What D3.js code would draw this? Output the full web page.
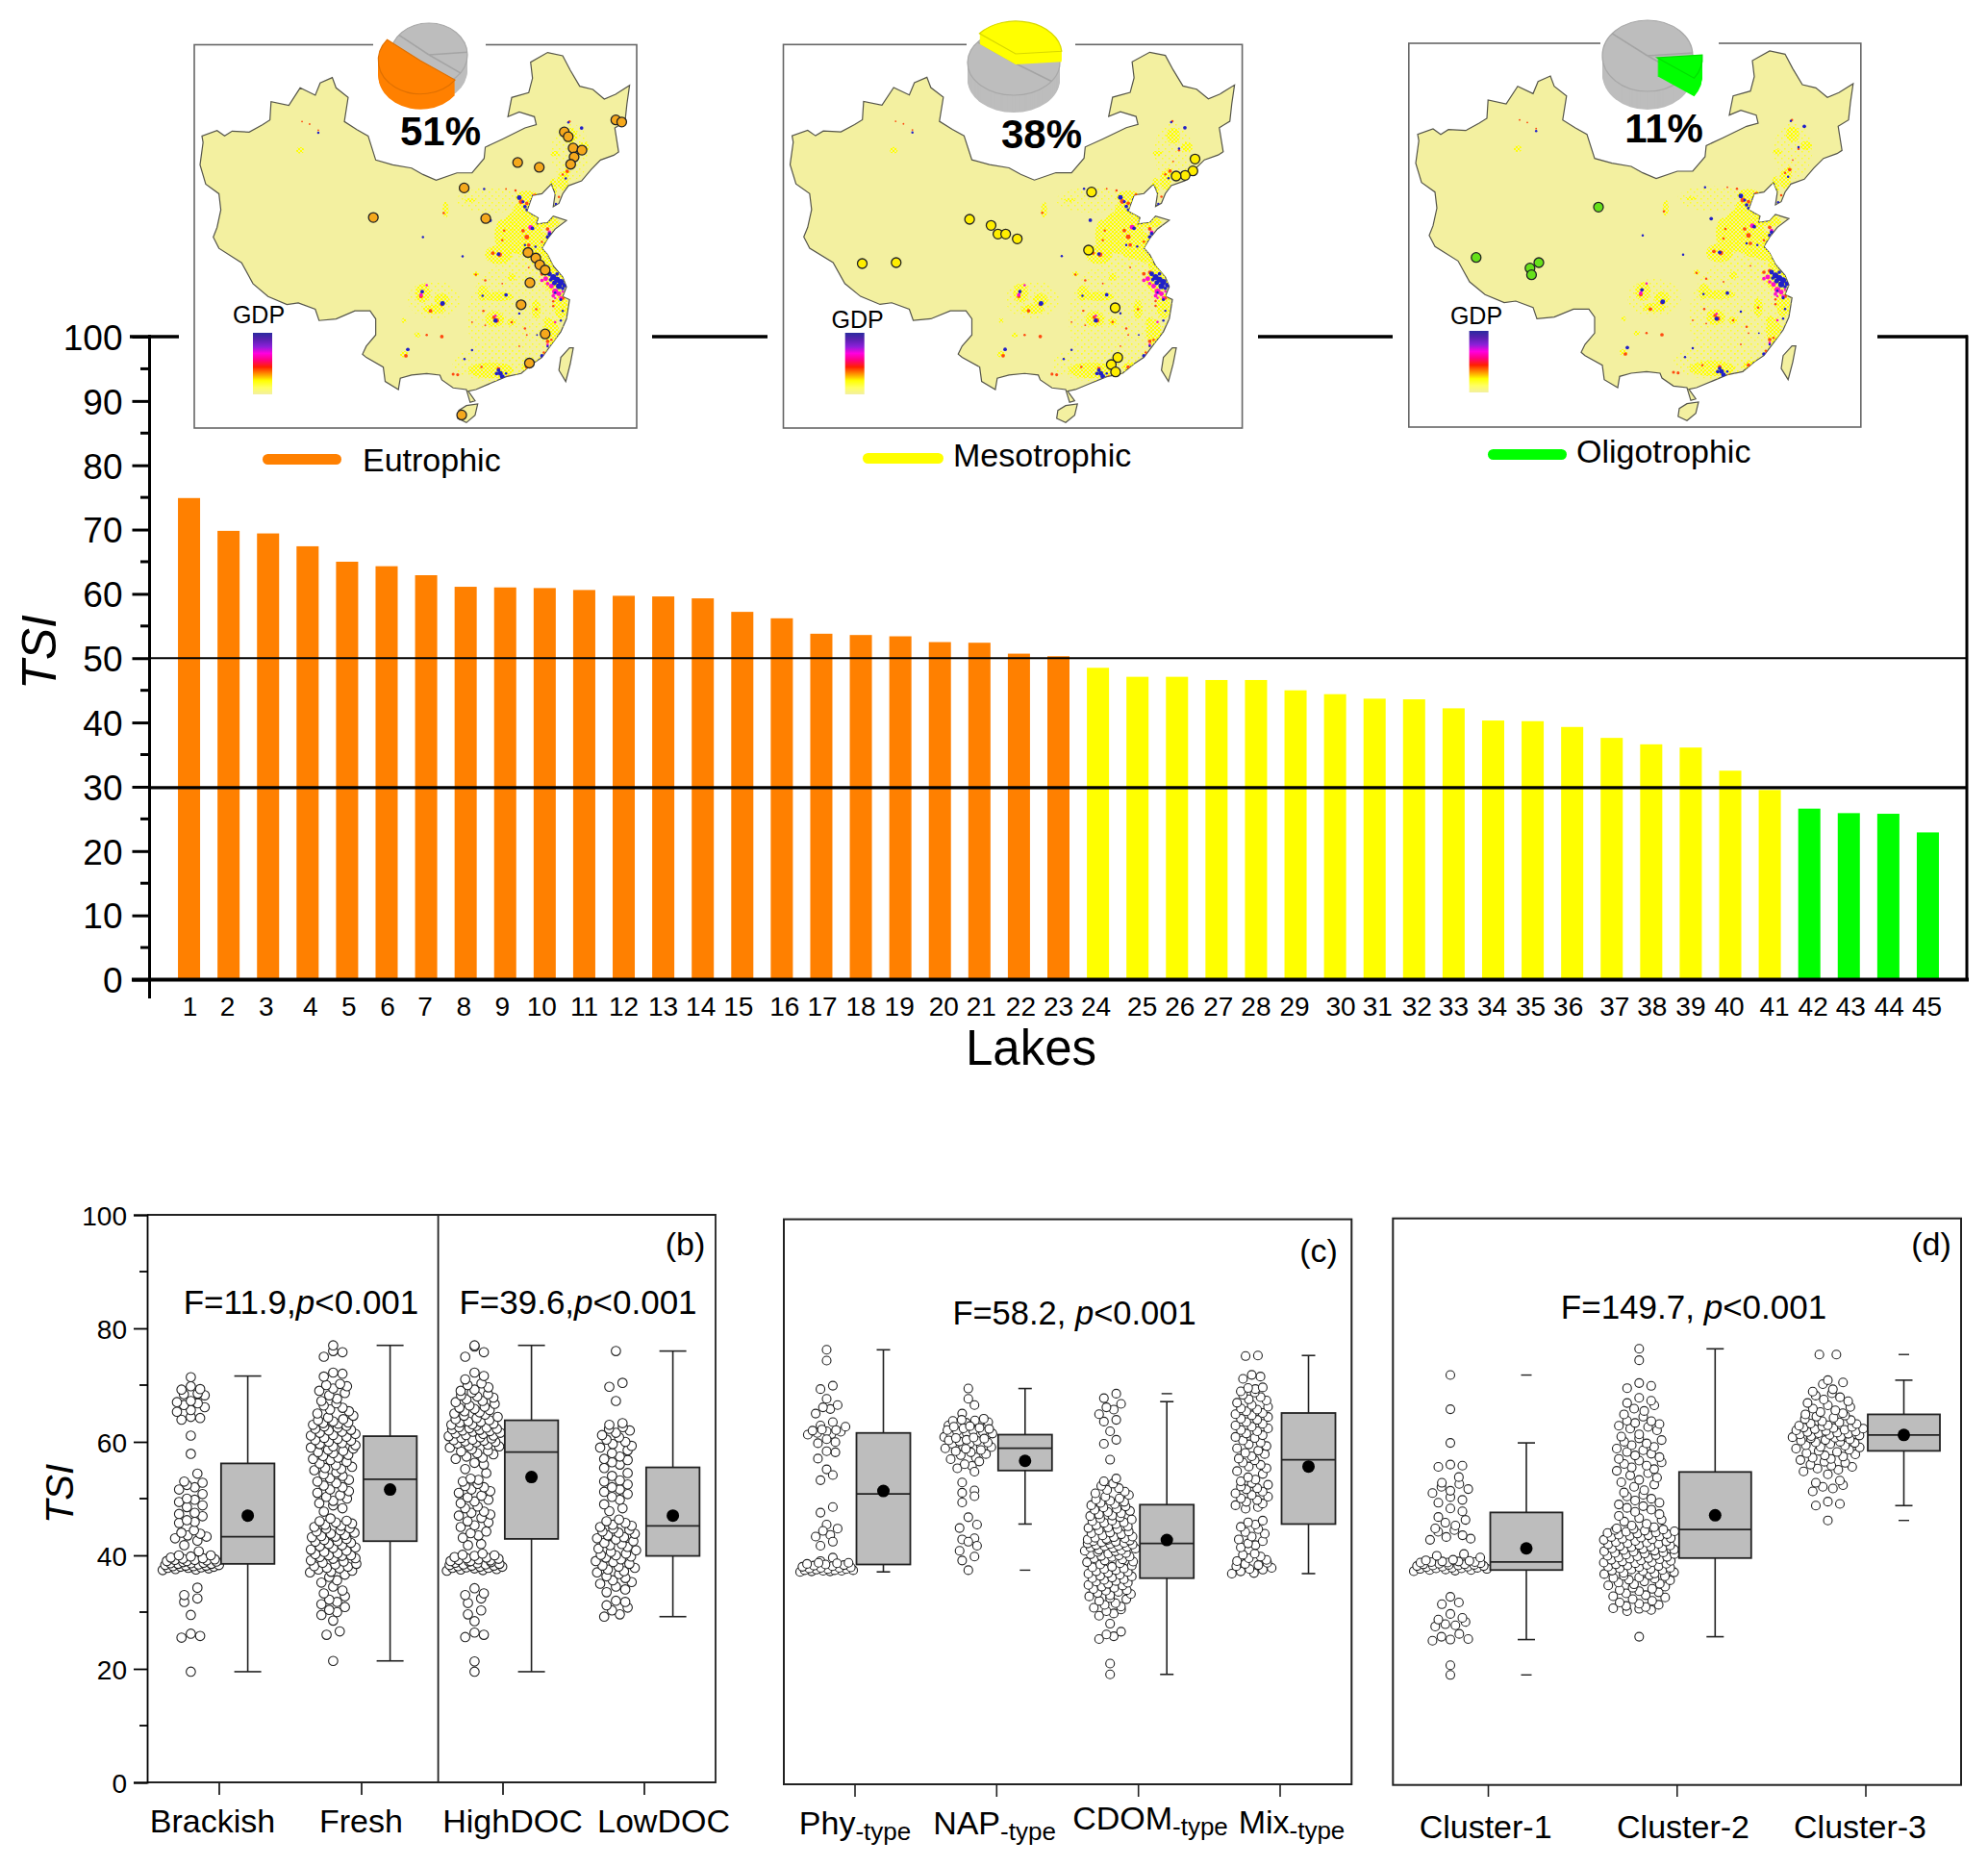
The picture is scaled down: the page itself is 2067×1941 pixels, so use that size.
<!DOCTYPE html>
<html>
<head>
<meta charset="utf-8">
<script src="https://cdnjs.cloudflare.com/ajax/libs/d3/7.8.5/d3.min.js"></script>
<style>
body { margin: 0; background: #fff; }
text { font-family: "Liberation Sans", Arial, sans-serif; fill: #000; }
</style>
</head>
<body>
<div id="chart"></div>
<script>
// --- top chart data ---
var lakes = d3.range(1, 46);
var tsi = [74.9,69.8,69.4,67.4,65,64.3,62.9,61.1,61,60.9,60.6,59.7,59.6,59.3,57.2,56.2,53.8,53.6,53.4,52.5,52.4,50.7,50.3,
           48.5,47.1,47.1,46.6,46.6,45,44.4,43.7,43.6,42.2,40.3,40.2,39.3,37.6,36.6,36.1,32.5,29.5,
           26.6,25.9,25.8,22.9];
var trophicNames = ["Eutrophic", "Mesotrophic", "Oligotrophic"];
var trophicColors = ["#ff8000", "#ffff00", "#00ff00"];
var thresholds = [50, 30];
// the lake numbers were hand placed in the original, not quite under the bars
var labelNudge = [1,-1,-2,3,2,1,-1,-2,-3,-3,0,0,0,-2,-4,3,1,0,-1,4,2,2,0,-2,5,3,2,0,-1,6,3,3,0,-1,-2,-4,3,1,0,-1,5,4,2,1,-1];

// --- box data: [low, q1, median, q3, high, mean, dashLow, dashHigh] ---
var panelBNames = ["Brackish", "Fresh", "HighDOC", "LowDOC"];
var panelBBoxes = [
  [19.5,38.5,43.3,56.2,71.6,47],
  [21.4,42.5,53.4,61,77,51.6],
  [19.5,42.9,58.2,63.8,77,53.8],
  [29.2,39.9,45.2,55.5,76,47]
];
var panelCNames = ["Phy", "NAP", "CDOM", "Mix"];
var panelCBoxes = [
  [37.3,38.6,51,61.7,76.3,51.5],
  [45.7,55.1,59,61.4,69.5,56.8,37.6],
  [19.3,36.2,42.3,49.1,67.2,42.9,null,68.6],
  [37,45.7,57,65.2,75.3,55.8]
];
var panelDNames = ["Cluster-1", "Cluster-2", "Cluster-3"];
var panelDBoxes = [
  [25.5,37.7,39.1,47.8,60,41.5,19.3,71.9],
  [26,39.8,44.8,54.9,76.5,47.3],
  [49,58.6,61.4,65,71,61.4,46.4,75.5]
];

// --- lake samples ---
var brackishVals = [19.5,25.5,25.8,26.2,29.5,31.8,32.4,33,34.3,37.4,37.5,37.6,37.7,37.8,37.8,37.9,38,38,38.1,38.1,38.2,38.2,38.3,38.3,38.4,38.5,38.5,38.6,38.6,38.7,38.8,38.9,39,39,39.1,39.2,39.2,39.3,39.4,39.5,39.6,39.8,40,40,40.7,41.8,42.6,43,43.3,43.5,43.8,44,44.4,45.7,45.9,46.2,46.9,47.3,47.5,48.5,48.8,49.4,49.8,50,50.8,51.6,52,52.4,52.8,53,54.4,57.9,61.1,63.9,64.2,64.4,65.3,65.6,66.1,66.5,66.8,67,67.2,68.2,68.4,68.5,69.2,69.3,69.8,71.4];
var freshVals = [21.4,26,26.6,28.5,29.5,30,30.4,30.9,31.4,31.8,32.2,32.8,33.3,33.8,34.5,35.2,35.6,36.2,36.6,37,37.1,37.3,37.5,37.7,37.8,38,38.1,38.4,38.5,38.7,38.9,39.1,39.4,39.5,39.7,39.9,40,40,40.2,40.4,40.6,40.8,41,41.3,41.4,41.6,41.8,42,42.2,42.4,42.5,42.7,42.9,43.2,43.3,43.4,43.6,43.8,44,44.2,44.4,44.7,44.8,45,45.2,45.4,45.6,45.8,46,46.1,46.5,47.7,48.3,48.8,49.2,49.6,50,50.3,50.6,51,51.3,51.6,52,52.3,52.7,53,53.3,53.6,54,54.3,54.6,55,55.2,55.4,55.6,55.9,56.2,56.5,56.8,57,57.2,57.5,57.7,58,58.2,58.4,58.6,58.8,59,59.2,59.4,59.6,59.8,60,60.2,60.3,60.5,60.7,60.9,61.1,61.2,61.4,61.6,61.8,62,62.1,62.3,62.5,62.7,62.8,63,63.2,63.3,63.4,63.6,63.8,64,64.3,64.6,65,65.4,65.7,66,66.4,66.8,67.2,67.6,68.2,68.6,69,69.4,69.8,70,70.2,71.5,72,72.2,75,75.8,76,77];
var highDocVals = [19.5,21.3,25.6,26,26.4,28.4,29.6,30.3,31.6,32.4,33,33.3,34.2,37.3,37.4,37.5,37.6,37.7,37.8,37.8,37.9,38,38,38.1,38.2,38.2,38.3,38.4,38.4,38.5,38.6,38.7,38.8,38.9,39,39,39.1,39.2,39.3,39.4,39.5,39.6,39.7,39.9,40,40.1,40.3,41.8,42,43.1,43.5,43.9,44.2,45,45.3,45.8,46,46.6,47,47.2,47.5,47.7,48.3,48.6,49.2,49.5,49.8,50.2,50.5,51,51.3,51.6,52,52.2,52.6,53,53.3,53.5,54.5,55.2,56,56.3,57,57.2,57.4,57.8,58,58.3,58.4,58.7,59,59.2,59.3,59.5,59.7,59.9,60,60.1,60.2,60.3,60.4,60.6,60.7,60.8,61,61.1,61.2,61.4,61.5,61.6,61.8,61.9,62,62.1,62.2,62.3,62.4,62.5,62.6,62.8,63,63.1,63.2,63.4,63.5,63.6,63.8,64,64.2,64.4,64.6,64.8,65,65.2,65.4,65.6,65.8,66,66.2,66.4,66.7,67,67.2,67.5,67.8,68,68.2,68.4,68.7,69,69.2,69.6,70,70.3,71,71.6,72.2,75,75.8,76.8,77];
var lowDocVals = [29.2,29.6,30.3,30.8,31.2,31.8,32,33.5,34,34.5,35,35.3,35.6,36,36.3,36.7,37,37.2,37.5,37.8,38,38.2,38.5,38.8,39,39.3,39.6,39.8,40,40.1,40.3,40.6,40.9,41.2,41.5,41.8,42,42.2,42.5,42.8,43,43.2,43.5,43.8,44,44.2,44.5,44.7,45,45.2,45.4,45.7,46,46.3,47.8,48.3,49,49.8,50.3,50.8,51.2,51.6,52,52.5,53,53.2,54,54.5,55.4,56,56.4,56.8,57,57.4,58,58.5,59,59.3,59.6,60,60.4,60.8,61.2,61.6,62,62.3,62.6,63,63.3,67.2,69.7,70.4,76];
var phyVals = [76.3,74.4,70,69.4,67.7,66.6,66.2,65.9,65.1,63.6,63,62.8,62.3,62.2,62.1,62,61.9,61.7,61.5,61.4,60.6,60.1,59.9,58.5,58.3,57.2,55.3,54.3,53.4,48.7,47.7,45.6,44.9,44.5,43.8,43.5,42.6,41.9,39.8,39.2,38.9,38.9,38.8,38.7,38.6,38.5,38.4,38.3,38.2,38.1,38,38,37.9,37.8,37.8,37.7,37.6,37.6,37.6,37.5,37.5,37.4,37.4,37.3];
var napVals = [69.5,67.7,66.6,65.1,64.2,64,63.9,63.8,63.6,63.5,63.3,63.2,63.1,63,62.9,62.8,62.6,62.5,62.4,62.2,62.1,62,61.9,61.7,61.6,61.5,61.4,61.2,61.1,61,60.9,60.8,60.7,60.5,60.4,60.3,60.2,60,59.9,59.8,59.5,59.3,59.2,59,58.9,58.7,58.5,58.3,58,57.8,57.4,57.1,56.7,56.2,55.9,55.5,54.9,53,51.6,51.2,50.6,49.5,46.9,45.6,45,43.2,43,42.6,41.9,41,40,39.3,37.6];
var cdomVals = [19.3,21.2,25.5,26,26.3,26.8,28.2,29.6,30,30.4,30.7,31,31.2,31.5,31.8,32.2,32.5,32.7,33,33.2,33.4,33.6,33.8,34,34.1,34.3,34.5,34.7,34.9,35,35.2,35.4,35.6,35.7,35.9,36,36.2,36.3,36.5,36.6,36.8,37,37.1,37.3,37.4,37.6,37.8,37.9,38.1,38.2,38.4,38.6,38.8,39,39.1,39.3,39.5,39.7,39.9,40,40.1,40.2,40.4,40.5,40.6,40.8,40.9,41,41.1,41.2,41.4,41.5,41.6,41.7,41.8,41.9,42,42.1,42.2,42.3,42.4,42.5,42.6,42.7,42.8,42.9,43,43.1,43.2,43.3,43.4,43.5,43.7,43.9,44.1,44.2,44.4,44.6,44.8,45,45.1,45.3,45.5,45.7,45.9,46,46.2,46.3,46.5,46.7,46.9,47.1,47.2,47.4,47.6,47.8,48,48.2,48.4,48.6,48.8,49,49.2,49.4,49.6,49.8,50,50.2,50.5,50.8,51.1,51.4,51.7,52,52.4,52.8,53.2,53.7,57,59.8,60.5,62,63.7,64,65,65.8,66.2,66.8,67.8,68.6];
var mixVals = [37,37.1,37.4,37.7,37.8,38,38.3,38.5,38.7,38.9,39.2,39.4,39.7,40,40.3,40.5,41.6,42,42.3,42.7,43,43.5,44,44.3,44.8,45.2,45.6,46,46.3,48.4,48.7,49,49.3,49.6,49.9,50.2,50.5,50.8,51.1,51.4,51.8,52,52.3,52.6,52.9,53.2,53.5,53.9,54.5,55,55.5,55.8,56.1,56.5,56.9,57.2,57.6,58,58.2,58.6,59,59.4,59.7,60,60.4,60.8,61,61.3,61.6,62,62.2,62.5,62.8,63,63.3,63.6,64,64.2,64.5,64.8,65,65.2,65.5,65.8,66,66.3,66.6,67,67.4,67.6,68,68.4,68.8,69,69.4,69.6,69.7,71.2,71.6,71.9,75.2,75.3];
var cluster1Vals = [19.3,21,25.3,25.5,25.6,26,26.5,27.8,28,28.2,28.6,29,29.3,30,31.7,32,33,37.5,37.6,37.7,37.7,37.8,37.9,37.9,38,38,38.1,38.1,38.2,38.3,38.3,38.4,38.4,38.5,38.5,38.6,38.6,38.7,38.7,38.8,38.9,39,39,39.1,39.1,39.2,39.2,39.3,39.4,39.5,39.9,40.2,40.5,43,43.2,43.5,43.8,44.4,44.7,45,45.5,46,46.5,47,48,48.5,49.5,50,50.5,51.2,51.6,51.9,52.3,52.8,53,54,55.8,56,56.2,60,65.9,71.9];
var cluster2Vals = [26,30.5,30.7,30.9,31,31.2,31.4,31.6,31.8,32,32.3,32.6,32.9,33.1,33.3,33.6,33.8,34,34.2,34.4,34.6,34.8,35,35.2,35.3,35.5,35.7,35.9,36,36.2,36.3,36.4,36.6,36.7,36.8,37,37.1,37.2,37.3,37.5,37.6,37.7,37.8,37.9,38,38.1,38.2,38.3,38.4,38.5,38.6,38.7,38.8,38.9,39,39.1,39.2,39.3,39.4,39.5,39.6,39.7,39.8,39.9,40,40.1,40.2,40.3,40.4,40.5,40.6,40.7,40.8,40.9,41,41.1,41.2,41.3,41.4,41.5,41.6,41.7,41.8,41.9,42,42.1,42.2,42.3,42.4,42.5,42.6,42.7,42.8,43,43.1,43.2,43.3,43.4,43.5,43.6,43.7,43.8,43.9,44,44.1,44.2,44.3,44.4,44.5,44.6,44.7,44.8,44.9,45,45.2,45.5,45.8,46.2,46.5,46.8,47.2,47.5,47.9,48.3,48.6,48.9,49.2,49.5,49.9,50.2,50.6,50.9,51.3,51.7,52.3,52.7,53.1,53.5,53.9,54.3,54.7,55.1,55.4,55.7,56,56.3,56.6,56.9,57.2,57.5,57.8,58.1,58.4,58.7,59,59.3,59.6,59.9,60.2,60.5,60.8,61.1,61.5,62.2,62.5,62.8,63,63.3,63.5,63.8,63.9,64.6,65,65.6,66,66.6,67,67.4,67.9,69.6,70,70.5,74.5,76.5];
var cluster3Vals = [46.4,49,49.3,49.7,51.5,52,52.3,52.6,53,53.4,54.5,55,55.3,55.5,55.8,56,56.2,56.5,56.7,57,57.2,57.4,57.6,57.8,58,58.2,58.4,58.6,58.8,59,59.2,59.3,59.5,59.6,59.8,60,60.1,60.2,60.4,60.5,60.6,60.8,60.9,61,61.1,61.2,61.3,61.4,61.5,61.6,61.7,61.8,61.9,62,62.1,62.2,62.3,62.4,62.5,62.6,62.7,62.8,62.9,63,63.1,63.3,63.4,63.6,63.8,64,64.2,64.4,64.6,64.8,65,65.2,65.4,65.7,66,66.3,66.6,67,67.3,67.6,68,68.3,68.7,69,69.4,70.3,70.6,71,75.5,75.5];

// --- map data, in the pixel grid I read the outline from ---
var chinaOutline = [[80,510],[88,440],[85,420],[125,403],[145,420],[165,405],[210,408],[245,385],[265,370],[268,313],[315,325],[345,270],[385,293],[398,255],[430,238],[440,270],[472,300],[462,375],[495,400],[525,420],[545,495],[590,510],[640,520],[670,540],[705,558],[760,535],[800,535],[832,490],[835,455],[880,430],[940,395],[970,385],[965,360],[925,345],[895,360],[905,300],[950,285],[960,240],[955,190],[1000,160],[1040,170],[1060,215],[1085,265],[1120,275],[1150,305],[1180,290],[1217,262],[1210,320],[1205,375],[1178,395],[1188,470],[1175,480],[1140,495],[1115,525],[1090,560],[1055,575],[1040,600],[1030,630],[1015,640],[1020,600],[1010,570],[985,600],[960,605],[945,655],[975,675],[970,695],[1000,690],[1015,670],[1050,683],[1020,710],[1000,740],[985,770],[1000,790],[1015,825],[1040,860],[1050,890],[1040,920],[1058,930],[1050,990],[1035,1030],[1010,1070],[985,1110],[960,1130],[930,1160],[890,1170],[850,1190],[810,1210],[790,1215],[808,1245],[795,1250],[785,1210],[750,1205],[720,1180],[715,1165],[680,1160],[640,1165],[610,1175],[605,1210],[570,1185],[565,1140],[520,1110],[510,1100],[520,1075],[545,1040],[545,990],[530,965],[490,965],[440,990],[395,995],[385,960],[340,940],[310,945],[260,920],[220,880],[190,815],[130,770],[115,735],[125,705],[135,650],[130,600],[95,570]];
var taiwanOutline = [[1058,1080],[1068,1080],[1060,1130],[1048,1185],[1030,1150],[1035,1110]];
var hainanOutline = [[785,1260],[815,1255],[808,1290],[785,1313],[762,1300],[765,1275]];
var gdpSparse = [[930,990,140,190],[960,760,85,130],[860,1130,110,55],[700,930,70,60],[1060,470,50,90],[850,620,90,40]];
var gdpHaze = [[930,720,55,70],[965,760,50,45],[880,730,20,50],[1000,690,30,18],[990,790,30,25],[1020,820,25,25],[1020,870,30,40],[1035,950,18,40],[1010,1030,20,40],[870,790,35,30],[935,650,25,25],[945,610,30,20],[1040,560,15,30],[1015,580,10,30],[1050,535,8,15],[870,920,40,15],[830,910,15,25],[670,910,20,30],[700,960,30,15],[720,930,20,20],[860,990,25,25],[905,1000,12,12],[850,1150,60,25],[950,1140,20,15],[730,650,8,25],[795,620,15,6],[345,465,10,10],[1060,420,18,25],[1095,455,15,15],[1020,475,12,8],[940,1170,15,6],[620,1100,10,10],[655,1040,8,8],[620,995,6,8],[970,960,12,30],[905,860,10,12],[810,850,8,8],[1000,1000,10,15]];
var gdpOrange = [[985,850,3],[1000,845,3],[930,625,4],[945,630,3],[965,605,3],[935,715,3],[945,735,4],[950,760,3],[885,715,2],[880,745,2],[873,790,4],[855,785,3],[725,660,2],[720,945,3],[665,920,3],[690,965,3],[750,1162,2.5],[762,1164,2.5],[1000,1060,3],[1052,530,3],[1030,610,2],[1075,465,2],[1058,375,2],[945,1140,3],[865,995,4],[858,985,3],[625,1105,3],[720,1045,3],[680,1040,2],[830,965,2],[905,1000,2],[810,852,2],[835,870,2],[940,1020,2],[1015,950,2],[350,375,1.5],[370,383,1.5],[393,402,1.5],[825,1140,2],[970,960,2],[915,590,2],[890,585,1.5],[950,650,2],[1000,710,3],[985,750,2],[1040,925,3],[1015,935,2],[990,1095,2],[1010,1055,2],[870,1145,3],[895,1170,2],[945,1040,1.5],[925,1075,1.5],[835,1010,1.5],[800,1000,1.5],[880,880,1.5],[950,830,1.5],[1060,500,1.5],[1040,540,2]];
var gdpMagenta = [[1020,905,5],[1030,912,4],[1010,888,4],[995,865,4],[985,870,3],[1000,880,3],[1015,918,3],[1035,925,3],[955,705,4],[1005,720,3],[665,915,3],[940,640,2],[1000,1070,2],[1020,1000,2],[862,980,2],[680,885,2],[1040,905,2],[1020,925,2],[935,625,2],[990,1105,2]];
var gdpBlue = [[1005,850,4],[1015,860,5],[1025,868,5],[1035,875,5],[1045,885,4],[1030,888,5],[1018,878,4],[1040,895,3],[1008,868,3],[1025,850,3],[1020,908,2],[1035,930,2.5],[870,1150,3],[875,1160,4],[880,1170,4],[885,1180,3],[865,1160,3],[890,1160,2],[925,612,4],[935,625,2.5],[940,640,3],[945,650,2.5],[722,942,4],[668,905,3],[870,788,3],[862,995,3.5],[775,795,2],[960,708,3],[1000,735,3],[1005,725,3],[990,770,2],[1090,395,3],[1055,378,2],[1022,632,2],[1075,460,2],[1048,552,2],[393,410,2],[630,1085,3],[780,1115,2],[800,1087,2],[925,973,2],[890,915,3],[828,918,2],[848,683,3],[985,1105,3],[1000,1075,2],[1035,995,2],[1040,965,2],[670,735,2],[972,1040,1.5],[940,760,2],[968,765,2],[832,585,2]];
var gdpStops = ["#2a2a9e","#5a20b0","#8a20d8","#ff00e0","#ff0080","#ff2000","#ff9000","#ffff00","#ffff60","#f3f0a0"];

// lakes on each map, each in the grid of its own map panel
var lakesEutrophic = [[761,633],[946,547],[990,636],[1055,473],[1099,487],[1150,384],[1158,398],[1168,431],[1170,457],[1163,478],[1186,437],[1255,349],[1267,355],[1076,735],[1092,751],[1100,771],[1111,786],[1080,823],[1062,887],[1111,972],[1079,1057],[941,1208]];
var lakesMesotrophic = [[1036,496],[1031,533],[1013,547],[992,549],[795,599],[511,684],[561,703],[577,730],[595,730],[622,745],[788,780],[261,822],[340,819],[850,960],[856,1115],[841,1137],[851,1160]];
var lakesOligotrophic = [[555,647],[237,804],[377,837],[400,820],[381,858]];

var pieShares = [51, 38, 11];

var width = 2067, height = 1941;
var svg = d3.select("#chart").append("svg").attr("width", width).attr("height", height);
svg.append("rect").attr("width", width).attr("height", height).attr("fill", "#fff");

function trophicIndex(i) { return i < 23 ? 0 : (i < 41 ? 1 : 2); }

// ===== top bar chart =====
var yTop = d3.scaleLinear().domain([0, 100]).range([1018.5, 350]);
var xTop = d3.scaleBand().domain(lakes).range([176, 2025]).paddingInner(0.44).paddingOuter(0.22);
var gTop = svg.append("g");

gTop.selectAll("rect.bar").data(tsi).enter().append("rect")
   .attr("class", "bar")
   .attr("x", function(d, i) { return xTop(lakes[i]); })
   .attr("width", xTop.bandwidth())
   .attr("y", function(d) { return yTop(d); })
   .attr("height", function(d) { return yTop(0) - yTop(d); })
   .attr("fill", function(d, i) { return trophicColors[trophicIndex(i)]; });

gTop.selectAll("line.thr").data(thresholds).enter().append("line")
   .attr("class", "thr")
   .attr("x1", 155).attr("x2", 2045)
   .attr("y1", function(d) { return yTop(d) + (d == 30 ? 1 : 0); })
   .attr("y2", function(d) { return yTop(d) + (d == 30 ? 1 : 0); })
   .attr("stroke", "#000")
   .attr("stroke-width", function(d) { return d == 30 ? 3.2 : 2.2; });

var yAxis = gTop.append("g").attr("transform", "translate(155.5,0)")
   .call(d3.axisLeft(yTop).tickValues(d3.range(0, 101, 10)).tickSize(18).tickPadding(10));
yAxis.selectAll("text").style("font-size", "37px").attr("dy", "0.36em");
yAxis.selectAll("line").attr("stroke-width", 3);
yAxis.select(".domain").attr("stroke-width", 3).attr("d", "M0,348V1038");
gTop.append("g").selectAll("line").data(d3.range(5, 100, 10)).enter().append("line")
   .attr("x1", 146).attr("x2", 155)
   .attr("y1", function(d) { return yTop(d); }).attr("y2", function(d) { return yTop(d); })
   .attr("stroke", "#000").attr("stroke-width", 3);

var xAxis = gTop.append("g").attr("transform", "translate(0," + yTop(0) + ")")
   .call(d3.axisBottom(xTop).tickSize(0).tickPadding(18));
xAxis.select(".domain").attr("stroke", "#000").attr("stroke-width", 4).attr("d", "M137,0H2047");
xAxis.selectAll("text").style("font-size", "28px")
   .attr("dx", function(d, i) { return labelNudge[i]; });

// top frame is broken where the maps sit
[[135, 186], [678, 798], [1308, 1448], [1952, 2046]].forEach(function(s) {
  gTop.append("line").attr("x1", s[0]).attr("x2", s[1]).attr("y1", yTop(100)).attr("y2", yTop(100))
     .attr("stroke", "#000").attr("stroke-width", 3.5);
});
gTop.append("line").attr("x1", 2045).attr("x2", 2045).attr("y1", yTop(100) - 1.5).attr("y2", yTop(0))
   .attr("stroke", "#000").attr("stroke-width", 3);

gTop.append("text").attr("x", 1072).attr("y", 1107).attr("text-anchor", "middle")
   .style("font-size", "51px").text("Lakes");
gTop.append("text").attr("transform", "translate(58,678) rotate(-90)").attr("text-anchor", "middle")
   .style("font-size", "50px").style("font-style", "italic").text("TSI");

// ===== map panels =====
var defs = svg.append("defs");
var grad = defs.append("linearGradient").attr("id", "gdpRamp").attr("x1", 0).attr("x2", 0).attr("y1", 0).attr("y2", 1);
gdpStops.forEach(function(c, i) {
  grad.append("stop").attr("offset", i / (gdpStops.length - 1)).attr("stop-color", c);
});
// dither patterns for the yellow GDP speckle
var dense = defs.append("pattern").attr("id", "ditherDense").attr("width", 4).attr("height", 4).attr("patternUnits", "userSpaceOnUse");
dense.append("rect").attr("width", 2).attr("height", 2).attr("fill", "#ffff00");
dense.append("rect").attr("x", 2).attr("y", 2).attr("width", 2).attr("height", 2).attr("fill", "#ffff00");
var sparse = defs.append("pattern").attr("id", "ditherSparse").attr("width", 7).attr("height", 7).attr("patternUnits", "userSpaceOnUse");
sparse.append("rect").attr("width", 1.5).attr("height", 1.5).attr("fill", "#ffff20");
sparse.append("rect").attr("x", 4).attr("y", 3).attr("width", 1.5).attr("height", 1.5).attr("fill", "#ffff20");

var panels = [
  { box: [202, 46.5, 662, 445], gap: [388, 505], map: [208, 654.6, 53.6, 440], read: [[408, 1283], [150, 1232]], lakes: lakesEutrophic,
    ramp: [263, 346, 20, 64], gdp: [269, 336], share: 0, shareText: [458, 151],
    pie: { gray: [446, 57, 40, 33, 16], slice: [437, 63, 44, 35, 16] },
    legend: [273, 472, 82, 11], legendText: [377, 490] },
  { box: [814.5, 46.3, 1291.6, 445], gap: [1005, 1118], map: [821.5, 1283.6, 53.3, 440], read: [[93, 1128], [160, 1320]], lakes: lakesMesotrophic,
    ramp: [878.7, 346, 20, 64], gdp: [891.6, 341], share: 1, shareText: [1083, 154],
    pie: { gray: [1054, 65, 48, 34, 18], slice: [1056, 56, 48, 34, 11] },
    legend: [897, 471, 84, 11], legendText: [991, 485] },
  { box: [1464.8, 45, 1934.8, 444], gap: [1664, 1787], map: [1472, 1926.8, 52, 438], read: [[80, 1217], [157, 1315]], lakes: lakesOligotrophic,
    ramp: [1527.6, 344, 20, 64], gdp: [1535, 337], share: 2, shareText: [1730, 148],
    pie: { gray: [1713, 58, 47, 37, 19], slice: [1723, 60, 47, 37, 19] },
    legend: [1547, 467, 82, 11], legendText: [1639, 481] }
];

// one pie for all three maps, only the exploded slice changes
var pieLayout = d3.pie().sort(null).startAngle(125 * Math.PI / 180).endAngle(485 * Math.PI / 180);
var pieArcs = pieLayout(pieShares);

function drawPieSlice(g, cx, cy, rx, ry, depth, a0, a1, fill, rim) {
  var arc = d3.arc().innerRadius(0).outerRadius(1).startAngle(a0).endAngle(a1);
  // side wall first: stacked copies of the slice, then the face on top
  var layers = g.append("g");
  d3.range(depth, 0, -1).forEach(function(k) {
    layers.append("path").attr("d", arc())
      .attr("transform", "translate(" + cx + "," + (cy + k) + ") scale(" + rx + "," + ry + ")")
      .attr("fill", fill);
  });
  g.append("path").attr("d", arc())
   .attr("transform", "translate(" + cx + "," + cy + ") scale(" + rx + "," + ry + ")")
   .attr("fill", fill)
   .attr("stroke", rim)
   .attr("stroke-width", 1.2)
   .attr("vector-effect", "non-scaling-stroke");
}

panels.forEach(function(p) {
  var g = svg.append("g");
  var mx = d3.scaleLinear().domain([80, 1217]).range([p.map[0], p.map[1]]);
  var my = d3.scaleLinear().domain([157, 1315]).range([p.map[2], p.map[3]]);
  var lx = d3.scaleLinear().domain(p.read[0]).range([p.map[0], p.map[1]]);
  var ly = d3.scaleLinear().domain(p.read[1]).range([p.map[2], p.map[3]]);
  var line = d3.line().x(function(d) { return mx(d[0]); }).y(function(d) { return my(d[1]); }).curve(d3.curveLinearClosed);

  g.append("rect").attr("x", p.box[0]).attr("y", p.box[1])
   .attr("width", p.box[2] - p.box[0]).attr("height", p.box[3] - p.box[1])
   .attr("fill", "#fff").attr("stroke", "#666").attr("stroke-width", 1.6);

  var clipId = "land" + p.share;
  defs.append("clipPath").attr("id", clipId).append("path").attr("d", line(chinaOutline));

  [chinaOutline, taiwanOutline, hainanOutline].forEach(function(o) {
    g.append("path").attr("d", line(o)).attr("fill", "#f3f0a0").attr("stroke", "#55554a").attr("stroke-width", 1.2);
  });

  var land = g.append("g").attr("clip-path", "url(#" + clipId + ")");
  [[gdpSparse, "url(#ditherSparse)"], [gdpHaze, "url(#ditherDense)"]].forEach(function(s) {
    land.selectAll(null).data(s[0]).enter().append("ellipse")
        .attr("cx", function(d) { return mx(d[0]); }).attr("cy", function(d) { return my(d[1]); })
        .attr("rx", function(d) { return d[2] * 0.4; }).attr("ry", function(d) { return d[3] * 0.33; })
        .attr("fill", s[1]);
  });
  [[gdpOrange, "#ff4a10"], [gdpMagenta, "#ff10c8"], [gdpBlue, "#2020c8"]].forEach(function(s) {
    land.selectAll(null).data(s[0]).enter().append("circle")
        .attr("cx", function(d) { return mx(d[0]); }).attr("cy", function(d) { return my(d[1]); })
        .attr("r", function(d) { return d[2] * 0.62; })
        .attr("fill", s[1]);
  });

  g.selectAll("circle.lake").data(p.lakes).enter().append("circle")
   .attr("class", "lake")
   .attr("cx", function(d) { return lx(d[0]); }).attr("cy", function(d) { return ly(d[1]); })
   .attr("r", 5)
   .attr("fill", ["#f5a81c", "#ffee00", "#66e01a"][p.share])
   .attr("stroke", "#222").attr("stroke-width", 1.3);

  g.append("rect").attr("x", p.ramp[0]).attr("y", p.ramp[1]).attr("width", p.ramp[2]).attr("height", p.ramp[3])
   .attr("fill", "url(#gdpRamp)");
  g.append("text").attr("x", p.gdp[0]).attr("y", p.gdp[1]).attr("text-anchor", "middle")
   .style("font-size", "25px").text("GDP");

  // white gap in the box top for the pie
  g.append("rect").attr("x", p.gap[0]).attr("y", p.box[1] - 3).attr("width", p.gap[1] - p.gap[0]).attr("height", 6).attr("fill", "#fff");

  var pieG = g.append("g");
  var gr = p.pie.gray, sl = p.pie.slice, own = pieArcs[p.share];
  drawPieSlice(pieG, gr[0], gr[1], gr[2], gr[3], gr[4], 0, 2 * Math.PI, "#bdbdbd", "#a8a8a8");
  // slice borders stay visible on the grey disc
  pieArcs.forEach(function(a) {
    pieG.append("line")
        .attr("x1", gr[0]).attr("y1", gr[1])
        .attr("x2", gr[0] + gr[2] * Math.sin(a.startAngle)).attr("y2", gr[1] - gr[3] * Math.cos(a.startAngle))
        .attr("stroke", "#a4a4a4").attr("stroke-width", 1.5);
  });
  drawPieSlice(pieG, sl[0], sl[1], sl[2], sl[3], sl[4], own.startAngle, own.endAngle, trophicColors[p.share], ["#e07000", "#d8d800", "#00e000"][p.share]);

  g.append("text").attr("x", p.shareText[0]).attr("y", p.shareText[1]).attr("text-anchor", "middle")
   .style("font-size", "42px").style("font-weight", "bold").text(pieShares[p.share] + "%");

  g.append("rect").attr("x", p.legend[0]).attr("y", p.legend[1]).attr("width", p.legend[2]).attr("height", p.legend[3])
   .attr("rx", 5.5).attr("fill", trophicColors[p.share]);
  g.append("text").attr("x", p.legendText[0]).attr("y", p.legendText[1])
   .style("font-size", "34px").text(trophicNames[p.share]);
});

// ===== lower box panels =====
// bin the values and spread each bin sideways, busy bins get wider up to maxW
function swarm(values, yScale, maxW) {
  var bins = d3.group(values, function(v) { return Math.floor((v - 37) / 2); });
  var placed = [];
  bins.forEach(function(list) {
    var n = list.length, w = maxW * (1 - Math.exp(-n / 8));
    // order the slots so neighbours in value don't end up neighbours in x
    var slots = d3.range(n).sort(function(a, b) { return ((a * 0.618) % 1) - ((b * 0.618) % 1); });
    list.slice().sort(d3.ascending).forEach(function(v, i) {
      var dx = n > 1 ? (slots[i] / (n - 1) - 0.5) * w : 0;
      placed.push({ dx: dx, py: yScale(v) });
    });
  });
  return placed;
}

function drawBoxGroup(g, yScale, center, spread, boxW, capW, r, maxW, box, vals) {
  var swarmX = center - spread, boxX = center + spread;
  g.append("g").selectAll("circle").data(swarm(vals, yScale, maxW)).enter().append("circle")
   .attr("cx", function(d) { return swarmX + d.dx; })
   .attr("cy", function(d) { return d.py; })
   .attr("r", r)
   .attr("fill", "#fff").attr("stroke", "#222").attr("stroke-width", 1.1);

  g.append("line").attr("x1", boxX).attr("x2", boxX).attr("y1", yScale(box[0])).attr("y2", yScale(box[4]))
   .attr("stroke", "#222").attr("stroke-width", 1.6);
  [box[0], box[4]].forEach(function(v) {
    g.append("line").attr("x1", boxX - capW).attr("x2", boxX + capW).attr("y1", yScale(v)).attr("y2", yScale(v))
     .attr("stroke", "#222").attr("stroke-width", 1.6);
  });
  [box[6], box[7]].forEach(function(v) {
    if (v == null) return;
    g.append("line").attr("x1", boxX - 5.5).attr("x2", boxX + 5.5).attr("y1", yScale(v)).attr("y2", yScale(v))
     .attr("stroke", "#222").attr("stroke-width", 1.4);
  });
  g.append("rect").attr("x", boxX - boxW / 2).attr("width", boxW)
   .attr("y", yScale(box[3])).attr("height", yScale(box[1]) - yScale(box[3]))
   .attr("fill", "#bdbdbd").attr("stroke", "#222").attr("stroke-width", 1.8);
  g.append("line").attr("x1", boxX - boxW / 2).attr("x2", boxX + boxW / 2).attr("y1", yScale(box[2])).attr("y2", yScale(box[2]))
   .attr("stroke", "#222").attr("stroke-width", 1.8);
  g.append("circle").attr("cx", boxX).attr("cy", yScale(box[5])).attr("r", 6.5).attr("fill", "#000");
}

function statText(g, cx, base, size, pre, post) {
  var t = g.append("text").attr("x", cx).attr("y", base).attr("text-anchor", "middle").style("font-size", size + "px");
  t.append("tspan").text(pre);
  t.append("tspan").style("font-style", "italic").text("p");
  t.append("tspan").text(post);
}

// (b)
var yB = d3.scaleLinear().domain([0, 100]).range([1853, 1263]);
var tickB = d3.scaleOrdinal().domain(panelBNames).range([228, 376, 523, 670]);
var gB = svg.append("g");
var bVals = [brackishVals, freshVals, highDocVals, lowDocVals];
panelBNames.forEach(function(n, i) {
  drawBoxGroup(gB, yB, tickB(n), 29.6, 55.5, 14, 4.8, 62, panelBBoxes[i], bVals[i]);
});
gB.append("path").attr("d", "M153,1263H744V1853H153").attr("fill", "none").attr("stroke", "#222").attr("stroke-width", 1.8);
gB.append("line").attr("x1", 455.6).attr("x2", 455.6).attr("y1", 1263).attr("y2", 1853).attr("stroke", "#222").attr("stroke-width", 1.8);
var axB = gB.append("g").attr("transform", "translate(153,0)")
   .call(d3.axisLeft(yB).tickValues(d3.range(0, 101, 20)).tickSize(14).tickPadding(7));
axB.selectAll("text").style("font-size", "28px").attr("dy", "0.36em");
axB.selectAll("line").attr("stroke-width", 1.8);
axB.select(".domain").attr("stroke-width", 1.8);
gB.append("g").selectAll("line").data(d3.range(10, 100, 20)).enter().append("line")
   .attr("x1", 145).attr("x2", 153)
   .attr("y1", function(d) { return yB(d); }).attr("y2", function(d) { return yB(d); })
   .attr("stroke", "#000").attr("stroke-width", 1.8);
panelBNames.forEach(function(n, i) {
  gB.append("line").attr("x1", tickB(n)).attr("x2", tickB(n)).attr("y1", 1853).attr("y2", 1866).attr("stroke", "#222").attr("stroke-width", 1.8);
  gB.append("text").attr("x", [221, 375.5, 533, 690][i]).attr("y", 1905).attr("text-anchor", "middle")
    .style("font-size", "34px").text(n);
});
statText(gB, 313, 1365.5, 35, "F=11.9,", "<0.001");
statText(gB, 601, 1366, 35, "F=39.6,", "<0.001");
gB.append("text").attr("x", 712.5).attr("y", 1305).attr("text-anchor", "middle").style("font-size", "34px").text("(b)");
gB.append("text").attr("transform", "translate(76,1553) rotate(-90)").attr("text-anchor", "middle")
  .style("font-size", "40px").style("font-style", "italic").text("TSI");

// (c)
var yC = d3.scaleLinear().domain([0, 100]).range([1855, 1263]);
var tickC = d3.scaleOrdinal().domain(panelCNames).range([889, 1036.3, 1183.7, 1331]);
var gC = svg.append("g");
var cVals = [phyVals, napVals, cdomVals, mixVals];
panelCNames.forEach(function(n, i) {
  drawBoxGroup(gC, yC, tickC(n), 29.5, 56, 7, 4.5, 58, panelCBoxes[i], cVals[i]);
});
gC.append("rect").attr("x", 815).attr("y", 1267.6).attr("width", 590.3).attr("height", 587.4)
  .attr("fill", "none").attr("stroke", "#222").attr("stroke-width", 2);
panelCNames.forEach(function(n, i) {
  gC.append("line").attr("x1", tickC(n)).attr("x2", tickC(n)).attr("y1", 1855).attr("y2", 1868).attr("stroke", "#222").attr("stroke-width", 1.6);
  var t = gC.append("text").attr("x", [889, 1034, 1196, 1343][i]).attr("y", [1907, 1907, 1902, 1906][i])
    .attr("text-anchor", "middle").style("font-size", "34px");
  t.append("tspan").text(n);
  t.append("tspan").attr("dy", 6).style("font-size", "26px").text("-type");
});
statText(gC, 1117, 1377, 34.5, "F=58.2, ", "<0.001");
gC.append("text").attr("x", 1371).attr("y", 1311.7).attr("text-anchor", "middle").style("font-size", "34px").text("(c)");

// (d)
var yD = d3.scaleLinear().domain([0, 100]).range([1855.7, 1263]);
var tickD = d3.scaleOrdinal().domain(panelDNames).range([1547.5, 1743.8, 1940]);
var gD = svg.append("g");
var dVals = [cluster1Vals, cluster2Vals, cluster3Vals];
panelDNames.forEach(function(n, i) {
  drawBoxGroup(gD, yD, tickD(n), 39.5, 75, 9, 4.5, 80, panelDBoxes[i], dVals[i]);
});
gD.append("rect").attr("x", 1448.3).attr("y", 1266.7).attr("width", 590.7).attr("height", 589)
  .attr("fill", "none").attr("stroke", "#222").attr("stroke-width", 2);
panelDNames.forEach(function(n, i) {
  gD.append("line").attr("x1", tickD(n)).attr("x2", tickD(n)).attr("y1", 1855.7).attr("y2", 1868).attr("stroke", "#222").attr("stroke-width", 1.6);
  gD.append("text").attr("x", [1544.6, 1750, 1934][i]).attr("y", 1911).attr("text-anchor", "middle")
    .style("font-size", "34px").text(n);
});
statText(gD, 1761, 1371, 35, "F=149.7, ", "<0.001");
gD.append("text").attr("x", 2008).attr("y", 1305).attr("text-anchor", "middle").style("font-size", "34px").text("(d)");
</script>
</body>
</html>
